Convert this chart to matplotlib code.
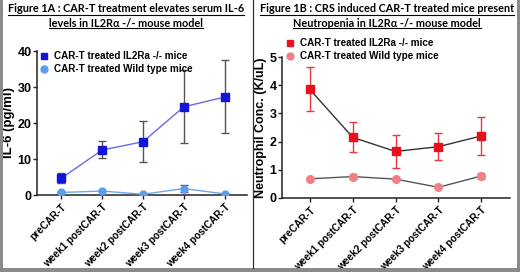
import numpy as np
import matplotlib.pyplot as plt
from matplotlib.lines import Line2D
from matplotlib.patches import Rectangle

plt.rcParams['font.family'] = ['Liberation Sans', 'DejaVu Sans']

# data
cats = ['preCAR-T', 'week1 postCAR-T', 'week2 postCAR-T', 'week3 postCAR-T', 'week4 postCAR-T']

il6_ko = [4.7, 12.5, 14.8, 24.5, 27.2]
il6_ko_lo = [3.2, 10.2, 9.2, 14.5, 17.1]
il6_ko_hi = [6.2, 15.0, 20.5, 34.6, 37.4]
il6_wt = [0.7, 1.1, 0.2, 1.8, 0.3]
il6_wt_lo = [0.7, 1.1, 0.2, 0.7, 0.3]
il6_wt_hi = [0.7, 1.1, 0.2, 2.9, 0.3]

neu_ko = [3.85, 2.15, 1.65, 1.82, 2.2]
neu_ko_lo = [3.07, 1.62, 1.08, 1.35, 1.52]
neu_ko_hi = [4.65, 2.70, 2.23, 2.30, 2.88]
neu_wt = [0.68, 0.76, 0.67, 0.38, 0.78]
neu_wt_lo = [0.68, 0.68, 0.67, 0.38, 0.68]
neu_wt_hi = [0.68, 0.84, 0.67, 0.38, 0.90]

title_a = 'Figure 1A : CAR-T treatment elevates serum IL-6\nlevels in IL2R\u03b1 -/- mouse model'
title_b = 'Figure 1B : CRS induced CAR-T treated mice present\nNeutropenia in IL2R\u03b1 -/- mouse model'
leg_ko = 'CAR-T treated IL2Ra -/- mice'
leg_wt = 'CAR-T treated Wild type mice'

W, H = 520, 272
fig = plt.figure(figsize=(5.2, 2.72), dpi=100)
fig.patch.set_facecolor('white')

x = np.arange(len(cats))


def err(v, lo, hi):
    v = np.array(v)
    return [v - np.array(lo), np.array(hi) - v]


def style(ax, ymax, step):
    for s in ['top', 'right']:
        ax.spines[s].set_visible(False)
    for s in ['left', 'bottom']:
        ax.spines[s].set_linewidth(1.1)
        ax.spines[s].set_color('#222222')
    ax.set_ylim(0, ymax)
    ax.set_yticks(np.arange(0, ymax + 0.1, step))
    ax.set_xticks(x)
    ax.set_xticklabels(cats, rotation=45, ha='right', rotation_mode='anchor',
                       fontsize=7.2, fontweight='bold')
    ax.tick_params(axis='both', direction='out', length=3, width=1, color='#222222')
    ax.tick_params(axis='y', labelsize=9, pad=1)
    for t in ax.get_yticklabels():
        t.set_fontweight('bold')
    ax.tick_params(axis='x', pad=2)


def legend(ax, px, py):
    leg = ax.legend(loc='upper left', bbox_to_anchor=(px / W, 1 - py / H),
                    bbox_transform=fig.transFigure, frameon=False,
                    prop={'size': 7.1, 'weight': 'bold'}, handlelength=0.8,
                    handletextpad=0.6, labelspacing=0.35, borderpad=0, borderaxespad=0)
    for h in leg.get_lines():
        h.set_linestyle('none')
        h.set_markersize(5)


# panel A
ax1 = fig.add_axes([37 / W, 1 - 195 / H, 210 / W, 144 / H])
ax1.errorbar(x, il6_ko, yerr=err(il6_ko, il6_ko_lo, il6_ko_hi), fmt='none',
             ecolor='#555555', elinewidth=1, capsize=3, capthick=1, zorder=2)
ax1.errorbar(x, il6_wt, yerr=err(il6_wt, il6_wt_lo, il6_wt_hi), fmt='none',
             ecolor='#555555', elinewidth=1, capsize=3, capthick=1, zorder=2)
ax1.plot(x, il6_ko, color='#6a6ae0', lw=1, marker='s', ms=6,
         mfc='#1414d8', mec='#1414d8', label=leg_ko, zorder=3)
ax1.plot(x, il6_wt, color='#6aa8ea', lw=1, marker='o', ms=5,
         mfc='#5c9ee8', mec='#5c9ee8', label=leg_wt, zorder=3)
ax1.set_xlim(-0.6, 4.55)
style(ax1, 40, 10)
ax1.set_ylabel('IL-6 (pg/ml)', fontsize=9.5, fontweight='bold', labelpad=2)
legend(ax1, 40, 51)

# panel B
ax2 = fig.add_axes([282 / W, 1 - 198 / H, 228 / W, 141 / H])
ax2.errorbar(x, neu_ko, yerr=err(neu_ko, neu_ko_lo, neu_ko_hi), fmt='none',
             ecolor='#e8383c', elinewidth=1, capsize=3, capthick=1, zorder=2)
ax2.errorbar(x, neu_wt, yerr=err(neu_wt, neu_wt_lo, neu_wt_hi), fmt='none',
             ecolor='#e07a80', elinewidth=1, capsize=3, capthick=1, zorder=2)
ax2.plot(x, neu_ko, color='#333333', lw=1, marker='s', ms=6,
         mfc='#e8101a', mec='#e8101a', label=leg_ko, zorder=3)
ax2.plot(x, neu_wt, color='#555555', lw=1, marker='o', ms=5.5,
         mfc='#f08088', mec='#f08088', label=leg_wt, zorder=3)
ax2.set_xlim(-0.65, 4.67)
style(ax2, 5, 1)
ax2.set_ylabel('Neutrophil Conc. (K/uL)', fontsize=9, fontweight='bold', labelpad=2)
legend(ax2, 286, 38)

# titles with underline
tfont = dict(family=['Lato', 'DejaVu Sans'], fontsize=7.8, fontweight='bold')
ta = fig.text(126 / W, 1 - 3 / H, title_a, ha='center', va='top', linespacing=1.45, **tfont)
tb = fig.text(387 / W, 1 - 3 / H, title_b, ha='center', va='top', linespacing=1.45, **tfont)

fig.canvas.draw()
r = fig.canvas.get_renderer()
for t in [ta, tb]:
    lines = t.get_text().split('\n')
    bb = t.get_window_extent(r)
    lh = bb.height / len(lines)
    for i, ln in enumerate(lines):
        tmp = fig.text(0, 0, ln, **tfont)
        w = tmp.get_window_extent(r).width
        tmp.remove()
        cx = (bb.x0 + bb.x1) / 2
        yb = bb.y1 - lh * (i + 1) + 1.5
        fig.add_artist(Line2D([(cx - w / 2) / W, (cx + w / 2) / W], [yb / H, yb / H],
                              transform=fig.transFigure, color='black', lw=0.8))

# frame and divider
fig.add_artist(Line2D([253 / W, 253 / W], [4 / H, 1], transform=fig.transFigure,
                      color='#333333', lw=0.9))
fig.add_artist(Rectangle((0, 0), 2.5 / W, 1, transform=fig.transFigure,
                         color='#8a8a8a', lw=0))
fig.add_artist(Rectangle((1 - 3.5 / W, 0), 3.5 / W, 1, transform=fig.transFigure,
                         color='#8a8a8a', lw=0))
fig.add_artist(Rectangle((0, 0), 1, 4 / H, transform=fig.transFigure,
                         color='#8a8a8a', lw=0))

fig.savefig('out.png', dpi=100)
